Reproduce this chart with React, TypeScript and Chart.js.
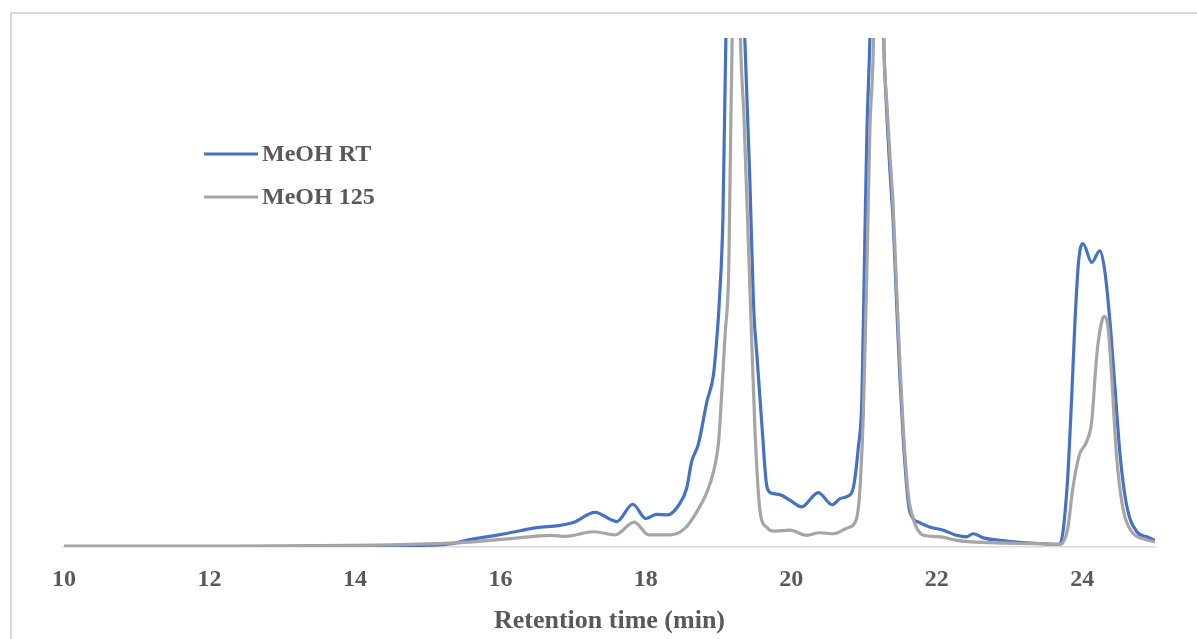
import React, { useEffect, useRef } from "react";
import { Chart, registerables } from "chart.js";

Chart.register(...registerables);

const seriesNames = ["MeOH RT", "MeOH 125"];

const rtTimes = [
  10, 11, 12, 13, 14, 14.5, 15, 15.3, 15.6, 15.9, 16.1, 16.5, 16.8, 17.0, 17.3, 17.6, 17.82, 18.0,
  18.15, 18.3, 18.45, 18.56, 18.63, 18.72, 18.84, 18.93, 18.98, 19.01, 19.06, 19.1, 19.22, 19.36,
  19.43, 19.48, 19.53, 19.6, 19.66, 19.72, 19.84, 19.98, 20.14, 20.37, 20.56, 20.67, 20.78, 20.85,
  20.92, 20.97, 21.01, 21.04, 21.08, 21.18, 21.27, 21.31, 21.36, 21.4, 21.45, 21.49, 21.54, 21.61,
  21.68, 21.75, 21.91, 22.09, 22.27, 22.41, 22.5, 22.64, 22.87, 23.19, 23.42, 23.69, 23.79, 23.86,
  23.9, 23.95, 24.01, 24.13, 24.24, 24.31, 24.38, 24.45, 24.52, 24.61, 24.75, 24.89, 25.0,
];
const rtValues = [
  0, 0, 0.05, 0.1, 0.15, 0.2, 0.35, 0.6, 1.5, 2.2, 2.7, 3.8, 4.2, 4.8, 6.8, 5.0, 8.4, 5.6,
  6.4, 6.3, 8.2, 11.5, 16.8, 20.1, 28.6, 33.9, 41.8, 48.3, 65, 100, 150, 100,
  72, 47.6, 37, 23, 12.2, 10.6, 10.3, 9.2, 7.9, 10.7, 8.3, 9.5, 10.0, 11.5,
  19.4, 29.2, 60, 82, 100, 180, 100, 86, 73, 64, 47, 34, 21, 8.5,
  5.5, 4.9, 3.9, 3.3, 2.3, 2.0, 2.6, 1.8, 1.3, 0.85, 0.65, 0.5, 11.5, 31.2,
  44.4, 56.2, 59.6, 55.9, 58.2, 54.2, 44.4, 31.2, 18.1, 8.2, 3.0, 2.0, 1.3,
];

const t125Times = [
  10, 12, 14, 15, 15.5, 16.1, 16.7, 16.9, 17.28, 17.58, 17.84, 18.04, 18.34, 18.54, 18.7, 18.84,
  18.93, 19.0, 19.05, 19.09, 19.14, 19.17, 19.25, 19.3, 19.35, 19.43, 19.5, 19.57, 19.66, 19.75,
  19.98, 20.21, 20.39, 20.58, 20.76, 20.88, 20.92, 20.95, 20.99, 21.04, 21.08, 21.13, 21.2, 21.27,
  21.31, 21.36, 21.4, 21.45, 21.49, 21.54, 21.61, 21.65, 21.73, 21.82, 22.05, 22.27, 22.73, 23.42,
  23.69, 23.8, 23.87, 23.96, 24.06, 24.13, 24.2, 24.27, 24.31, 24.36, 24.4, 24.47, 24.56, 24.68,
  24.84, 25.0,
];
const t125Values = [
  0.2, 0.2, 0.3, 0.6, 0.9, 1.6, 2.3, 2.1, 3.0, 2.4, 4.9, 2.4, 2.4, 3.7, 6.9, 10.8,
  14.8, 20.7, 31.9, 41.8, 55, 85, 140, 100, 84, 51, 23, 7, 3.9, 3.1,
  3.3, 2.3, 2.8, 2.6, 3.7, 4.9, 7.5, 13, 26, 55, 82, 100, 180, 100,
  88, 76, 67, 50, 37, 23, 10, 6.9, 3.6, 2.3, 2.0, 1.3, 0.85, 0.65,
  0.5, 3.6, 11.5, 18.1, 20.7, 24.7, 37.8, 44.4, 45.3, 42.4, 34.5, 18.1, 7.5, 3.0,
  1.6, 1.0,
];

const xTickValues = [10, 12, 14, 16, 18, 20, 22, 24];
const xAxisTitle = "Retention time (min)";

const lineColors = ["#4472C4", "#A5A5A5"];
const textColor = "#595959";
const serif = "'Liberation Serif', 'Times New Roman', serif";

const legendPlugin = {
  id: "insideLegend",
  afterDraw(chart: any) {
    const ctx = chart.ctx;
    const rows = [
      { y: 154, color: lineColors[0], label: seriesNames[0] },
      { y: 197, color: lineColors[1], label: seriesNames[1] },
    ];
    ctx.save();
    for (const r of rows) {
      ctx.strokeStyle = r.color;
      ctx.lineWidth = 3.2;
      ctx.beginPath();
      ctx.moveTo(204, r.y);
      ctx.lineTo(258, r.y);
      ctx.stroke();
      ctx.fillStyle = textColor;
      ctx.font = `bold 24px ${serif}`;
      ctx.textBaseline = "middle";
      ctx.textAlign = "left";
      ctx.fillText(r.label, 262, r.y + 1);
    }
    ctx.restore();
  },
};

export default function App() {
  const canvasRef = useRef<HTMLCanvasElement | null>(null);

  useEffect(() => {
    if (!canvasRef.current) return;
    const chart = new Chart(canvasRef.current, {
      type: "line",
      data: {
        datasets: [
          {
            label: seriesNames[0],
            data: rtTimes.map((t, i) => ({ x: t, y: rtValues[i] })),
            borderColor: lineColors[0],
            backgroundColor: lineColors[0],
            borderWidth: 3.2,
            pointRadius: 0,
            cubicInterpolationMode: "monotone",
            order: 1,
          },
          {
            label: seriesNames[1],
            data: t125Times.map((t, i) => ({ x: t, y: t125Values[i] })),
            borderColor: lineColors[1],
            backgroundColor: lineColors[1],
            borderWidth: 3.2,
            pointRadius: 0,
            cubicInterpolationMode: "monotone",
            order: 0,
          },
        ],
      },
      options: {
        animation: false,
        responsive: true,
        maintainAspectRatio: false,
        layout: { padding: { left: 64, right: 42, top: 38, bottom: 0 } },
        plugins: { legend: { display: false }, tooltip: { enabled: false } },
        scales: {
          x: {
            type: "linear",
            min: 10,
            max: 25,
            afterBuildTicks: (scale: any) => {
              scale.ticks = xTickValues.map((v) => ({ value: v }));
            },
            grid: { display: false, drawTicks: false },
            border: { display: true, color: "#D9D9D9", width: 1.5 },
            ticks: {
              color: textColor,
              padding: 18,
              maxRotation: 0,
              font: { family: serif, size: 24, weight: "bold" },
            },
            title: {
              display: true,
              text: xAxisTitle,
              color: textColor,
              font: { family: serif, size: 26, weight: "bold" },
              padding: { top: -6, bottom: 2 },
            },
          },
          y: { display: false, min: 0, max: 100 },
        },
      },
      plugins: [legendPlugin],
    });
    return () => chart.destroy();
  }, []);

  return (
    <div style={{ position: "fixed", left: 0, top: 0, width: 1197, height: 639, background: "#fff" }}>
      <div
        style={{
          position: "absolute",
          left: 10,
          top: 12,
          right: -4,
          bottom: -4,
          borderLeft: "2px solid #D9D9D9",
          borderTop: "2px solid #D9D9D9",
        }}
      />
      <div style={{ position: "absolute", left: 0, top: 0, width: 1197, height: 639 }}>
        <canvas ref={canvasRef} />
      </div>
    </div>
  );
}
